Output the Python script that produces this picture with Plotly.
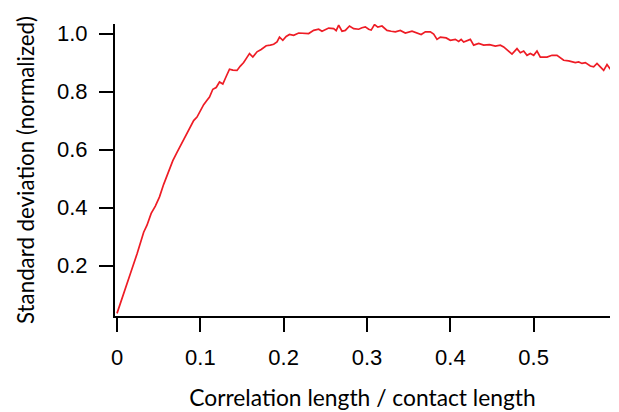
import plotly.graph_objects as go

corr_length = [
    0.000, 0.008, 0.016, 0.024, 0.032, 0.036, 0.041, 0.046, 0.051, 0.056,
    0.062, 0.067, 0.072, 0.077, 0.082, 0.087, 0.092, 0.096, 0.100, 0.104,
    0.108, 0.111, 0.115, 0.119, 0.123, 0.127, 0.131, 0.135, 0.139, 0.144,
    0.148, 0.152, 0.156, 0.159, 0.163, 0.168, 0.173, 0.179, 0.184, 0.188,
    0.192, 0.195, 0.199, 0.203, 0.207, 0.212, 0.218, 0.224, 0.230, 0.236,
    0.242, 0.246, 0.250, 0.254, 0.260, 0.263, 0.266, 0.270, 0.274, 0.279,
    0.284, 0.290, 0.294, 0.298, 0.302, 0.305, 0.309, 0.313, 0.318, 0.324,
    0.329, 0.334, 0.340, 0.346, 0.354, 0.359, 0.365, 0.370, 0.376, 0.380,
    0.384, 0.388, 0.395, 0.400, 0.406, 0.410, 0.413, 0.416, 0.421, 0.424,
    0.428, 0.434, 0.440, 0.447, 0.454, 0.460, 0.464, 0.468, 0.474, 0.480,
    0.484, 0.488, 0.492, 0.496, 0.500, 0.504, 0.508, 0.516, 0.522, 0.528,
    0.532, 0.536, 0.542, 0.550, 0.554, 0.558, 0.562, 0.568, 0.572, 0.576,
    0.580, 0.584, 0.588, 0.592,
]
std_dev = [
    0.035, 0.100, 0.172, 0.240, 0.315, 0.339, 0.380, 0.405, 0.437, 0.480,
    0.528, 0.562, 0.590, 0.617, 0.643, 0.672, 0.700, 0.712, 0.735, 0.755,
    0.770, 0.781, 0.808, 0.814, 0.833, 0.826, 0.852, 0.877, 0.874, 0.873,
    0.888, 0.900, 0.918, 0.931, 0.919, 0.937, 0.945, 0.958, 0.960, 0.963,
    0.971, 0.988, 0.977, 0.990, 0.997, 0.994, 1.002, 1.000, 1.000, 1.011,
    1.015, 1.008, 1.015, 1.019, 1.017, 1.010, 1.029, 1.008, 1.011, 1.026,
    1.017, 1.015, 1.020, 1.023, 1.015, 1.012, 1.031, 1.022, 1.026, 1.011,
    1.008, 1.006, 1.011, 1.002, 1.008, 1.003, 0.997, 1.006, 1.006, 0.998,
    0.980, 0.988, 0.985, 0.977, 0.980, 0.973, 0.980, 0.971, 0.976, 0.980,
    0.960, 0.966, 0.960, 0.962, 0.957, 0.960, 0.954, 0.945, 0.929, 0.948,
    0.934, 0.940, 0.925, 0.931, 0.925, 0.940, 0.919, 0.919, 0.925, 0.925,
    0.915, 0.908, 0.906, 0.900, 0.902, 0.897, 0.900, 0.888, 0.885, 0.897,
    0.885, 0.873, 0.893, 0.877,
]
x_ticks = [0, 0.1, 0.2, 0.3, 0.4, 0.5]
x_tick_labels = ["0", "0.1", "0.2", "0.3", "0.4", "0.5"]
y_ticks = [0.2, 0.4, 0.6, 0.8, 1.0]
y_tick_labels = ["0.2", "0.4", "0.6", "0.8", "1.0"]

x_range = [-0.0024, 0.5916]
y_range = [0.026, 1.033]

fig = go.Figure()
fig.add_trace(go.Scatter(
    x=corr_length, y=std_dev, mode="lines",
    line=dict(color="#EE1C25", width=1.7),
    showlegend=False, hoverinfo="skip",
))
# empty trace so the label-carrying overlay axes are drawn
fig.add_trace(go.Scatter(x=[], y=[], xaxis="x2", yaxis="y2",
                         showlegend=False, hoverinfo="skip"))

tick_font = dict(family="Liberation Sans", size=22, color="black")

# visible axes: lines and tick marks only
mark_axis = dict(
    showline=True, linecolor="black", linewidth=2,
    ticks="outside", ticklen=14, tickwidth=2, tickcolor="black",
    showgrid=False, zeroline=False, showticklabels=False, automargin=False,
)
# overlay axes: labels pushed out by invisible longer ticks
label_axis = dict(
    showline=False, ticks="outside", tickwidth=2, tickcolor="rgba(0,0,0,0)",
    showgrid=False, zeroline=False, tickfont=tick_font, automargin=False,
)

fig.update_layout(
    width=619, height=412,
    margin=dict(l=115, r=9, t=24, b=96),
    paper_bgcolor="white", plot_bgcolor="white",
    xaxis=dict(range=x_range, tickvals=x_ticks, **mark_axis),
    yaxis=dict(range=y_range, tickvals=y_ticks, **mark_axis),
    xaxis2=dict(
        range=x_range, tickvals=x_ticks, ticktext=x_tick_labels,
        overlaying="x", side="bottom", anchor="y2", ticklen=22,
        title=dict(text="Correlation length / contact length",
                   font=dict(family="Lato", size=22.8, color="black"),
                   standoff=20),
        **label_axis,
    ),
    yaxis2=dict(
        range=y_range, tickvals=y_ticks, ticktext=y_tick_labels,
        overlaying="y", side="left", anchor="x2", ticklen=22,
        title=dict(text="Standard deviation (normalized)",
                   font=dict(family="Lato", size=22.3, color="black"),
                   standoff=16),
        **label_axis,
    ),
)

fig.write_html("out.html")
